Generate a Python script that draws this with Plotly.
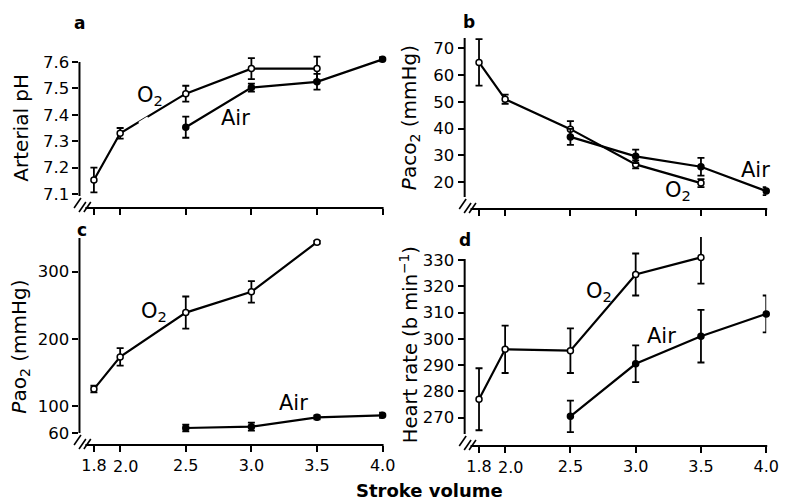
import plotly.graph_objects as go

# ---------------- data ----------------
stroke_o2 = [1.8, 2.0, 2.5, 3.0, 3.5]
stroke_air = [2.5, 3.0, 3.5, 4.0]
x_ticks = [1.8, 2.0, 2.5, 3.0, 3.5, 4.0]
x_ticklabels = ["1.8", "2.0", "2.5", "3.0", "3.5", "4.0"]

ph_o2 = [7.153, 7.33, 7.48, 7.575, 7.575]
ph_o2_err = [0.047, 0.02, 0.03, 0.04, 0.045]
ph_air = [7.353, 7.503, 7.525, 7.61]
ph_air_err = [0.04, 0.015, 0.03, 0.008]
ph_ticks = [7.1, 7.2, 7.3, 7.4, 7.5, 7.6]

paco2_o2 = [64.8, 51.0, 39.8, 26.6, 19.6]
paco2_o2_err = [8.7, 1.7, 3.0, 1.5, 1.5]
paco2_air = [36.9, 29.6, 25.7, 16.6]
paco2_air_err = [3.0, 2.5, 3.3, 1.5]
paco2_ticks = [20, 30, 40, 50, 60, 70]

pao2_o2 = [125, 173, 239, 270, 344]
pao2_o2_err = [5, 13, 24, 16, 2]
pao2_air = [67, 69, 83, 86]
pao2_air_err = [5, 6, 3, 4]
pao2_ticks = [60, 100, 200, 300]

hr_o2 = [277, 296, 295.5, 324.5, 331]
hr_o2_err = [11.8, 9, 8.5, 8, 10]
hr_air = [270.5, 290.5, 301, 309.5]
hr_air_err = [6, 7, 10, 7]
hr_ticks = [270, 280, 290, 300, 310, 320, 330]

# ---------------- layout helpers ----------------
W, H = 793, 500
FONT = "DejaVu Sans, Verdana, sans-serif"


def px(x):
    return x / W


def py(y):
    return 1 - y / H


X_RANGE = [1.69, 4.0]
EXTRA = 22  # px of headroom above each drawn axis so no mark is hidden
SHIFTED_TICK = 1  # index of the x tick label printed slightly to the right ("2.0")

# panel geometry in pixels: (left, right, top of axis line, bottom), value range of axis line
panels = {
    "a": dict(l=80.8, r=389, t=62, b=208, yr=[7.047, 7.6]),
    "b": dict(l=472.4, r=779, t=38, b=209, yr=[9.89, 73.93]),
    "c": dict(l=80.8, r=389, t=238, b=445, yr=[41.7, 350.2]),
    "d": dict(l=472.4, r=779, t=259, b=446, yr=[259.2, 330.4]),
}

fig = go.Figure()


def add_series(xs, ys, errs, axis_idx, filled):
    suffix = "" if axis_idx == 1 else str(axis_idx)
    fig.add_trace(go.Scatter(
        x=xs, y=ys,
        mode="lines+markers",
        line=dict(color="black", width=2.2),
        marker=dict(
            symbol="circle",
            size=6,
            color="black" if filled else "white",
            line=dict(color="black", width=1.5),
        ),
        error_y=dict(type="data", array=errs, visible=True,
                     color="black", thickness=1.8, width=3.5),
        xaxis="x" + suffix, yaxis="y" + suffix,
        cliponaxis=False, showlegend=False, hoverinfo="x+y",
    ))


add_series(stroke_o2, ph_o2, ph_o2_err, 1, False)
add_series(stroke_air, ph_air, ph_air_err, 1, True)
add_series(stroke_o2, paco2_o2, paco2_o2_err, 2, False)
add_series(stroke_air, paco2_air, paco2_air_err, 2, True)
add_series(stroke_o2, pao2_o2, pao2_o2_err, 3, False)
add_series(stroke_air, pao2_air, pao2_air_err, 3, True)
add_series(stroke_o2, hr_o2, hr_o2_err, 4, False)
add_series(stroke_air, hr_air, hr_air_err, 4, True)

yticks = {"a": ph_ticks, "b": paco2_ticks, "c": pao2_ticks, "d": hr_ticks}
ytickfmt = {"a": ".1f", "b": "d", "c": "d", "d": "d"}

layout = dict(
    width=W, height=H,
    margin=dict(l=0, r=0, t=0, b=0),
    paper_bgcolor="white", plot_bgcolor="white",
    font=dict(family=FONT, color="black"),
    showlegend=False,
)

shapes = []
annotations = []
XTICK_SIZE = 16

for i, key in enumerate(["a", "b", "c", "d"], start=1):
    p = panels[key]
    sx = "" if i == 1 else str(i)
    show_xlabels = key in ("c", "d")
    L, R, T, B = p["l"], p["r"], p["t"], p["b"]
    y0, y1 = p["yr"]
    per_px = (y1 - y0) / (B - T)
    if show_xlabels:
        ttext = ["" if j == SHIFTED_TICK else t for j, t in enumerate(x_ticklabels)]
        # the "2.0" label sits a little right of its tick in the original
        annotations.append(dict(
            text=x_ticklabels[SHIFTED_TICK], x=x_ticks[SHIFTED_TICK], xref="x" + sx,
            y=py(B + 21), yref="paper", xanchor="center", yanchor="middle",
            xshift=5, showarrow=False,
            font=dict(size=XTICK_SIZE, family=FONT, color="black"),
        ))
    else:
        ttext = [""] * len(x_ticks)
    layout["xaxis" + sx] = dict(
        domain=[px(L), px(R)],
        range=X_RANGE,
        anchor="y" + sx,
        tickmode="array", tickvals=x_ticks,
        ticktext=ttext,
        showticklabels=show_xlabels,
        tickangle=0,
        ticks="outside", ticklen=6, tickwidth=1.8, tickcolor="black",
        showgrid=False, zeroline=False, showline=False,
        tickfont=dict(size=XTICK_SIZE, family=FONT, color="black"),
        fixedrange=True,
    )
    layout["yaxis" + sx] = dict(
        domain=[py(B), py(T - EXTRA)],
        range=[y0, y1 + EXTRA * per_px],
        anchor="x" + sx,
        tickmode="array", tickvals=yticks[key],
        tickformat=ytickfmt[key],
        ticks="outside", ticklen=6, tickwidth=1.8, tickcolor="black",
        showgrid=False, zeroline=False, showline=False,
        tickfont=dict(size=16.5, family=FONT, color="black"),
        fixedrange=True,
    )
    # axis lines (with the broken corner)
    shapes.append(dict(type="line", xref="paper", yref="paper",
                       x0=px(L), x1=px(L), y0=py(B - 12), y1=py(T),
                       line=dict(color="black", width=2)))
    shapes.append(dict(type="line", xref="paper", yref="paper",
                       x0=px(L + 6), x1=px(R + 1), y0=py(B), y1=py(B),
                       line=dict(color="black", width=2)))
    # axis-break slashes
    for dx, dy in [(-2, -5), (3, -1), (8, -1)]:
        cx, cy = L + dx, B + dy
        shapes.append(dict(type="line", xref="paper", yref="paper",
                           x0=px(cx - 3.5), x1=px(cx + 3.5),
                           y0=py(cy + 5), y1=py(cy - 5),
                           line=dict(color="black", width=1.6)))

# small gap in the O2 line of panel a (as in the original print)
shapes.append(dict(type="line", xref="paper", yref="paper",
                   x0=px(142), x1=px(151), y0=py(124), y1=py(118.5),
                   line=dict(color="white", width=5), layer="above"))


def ann(text, x, y, size=18, bold=False, angle=0):
    annotations.append(dict(
        text=("<b>%s</b>" % text) if bold else text,
        x=px(x), y=py(y), xref="paper", yref="paper",
        xanchor="center", yanchor="middle", showarrow=False,
        textangle=angle,
        font=dict(size=size, family=FONT, color="black"),
    ))


# panel letters
ann("a", 81, 23, size=17, bold=True)
ann("b", 477, 22, size=17, bold=True)
ann("c", 83, 230, size=17, bold=True)
ann("d", 473, 240, size=17, bold=True)

# axis titles
ann("Arterial pH", 21, 128, size=20, angle=-90)
ann("<i>P</i>aco<sub>2</sub> (mmHg)", 417, 118, size=20, angle=-90)
ann("<i>P</i>ao<sub>2</sub> (mmHg)", 20, 347, size=20, angle=-90)
ann("Heart rate (b min<sup>−1</sup>)", 416, 345, size=19.5, angle=-90)
ann("Stroke volume", 437, 490, size=18, bold=True)

# series labels
ann("O<sub>2</sub>", 153, 96, size=21)
ann("Air", 239, 118, size=21)
ann("Air", 768, 170, size=21)
ann("O<sub>2</sub>", 689, 191, size=21)
ann("O<sub>2</sub>", 157, 312, size=21)
ann("Air", 298, 403, size=21)
ann("O<sub>2</sub>", 609, 292, size=21)
ann("Air", 673, 336, size=21)

layout["shapes"] = shapes
layout["annotations"] = annotations
fig.update_layout(**layout)

fig.write_html("out.html")
